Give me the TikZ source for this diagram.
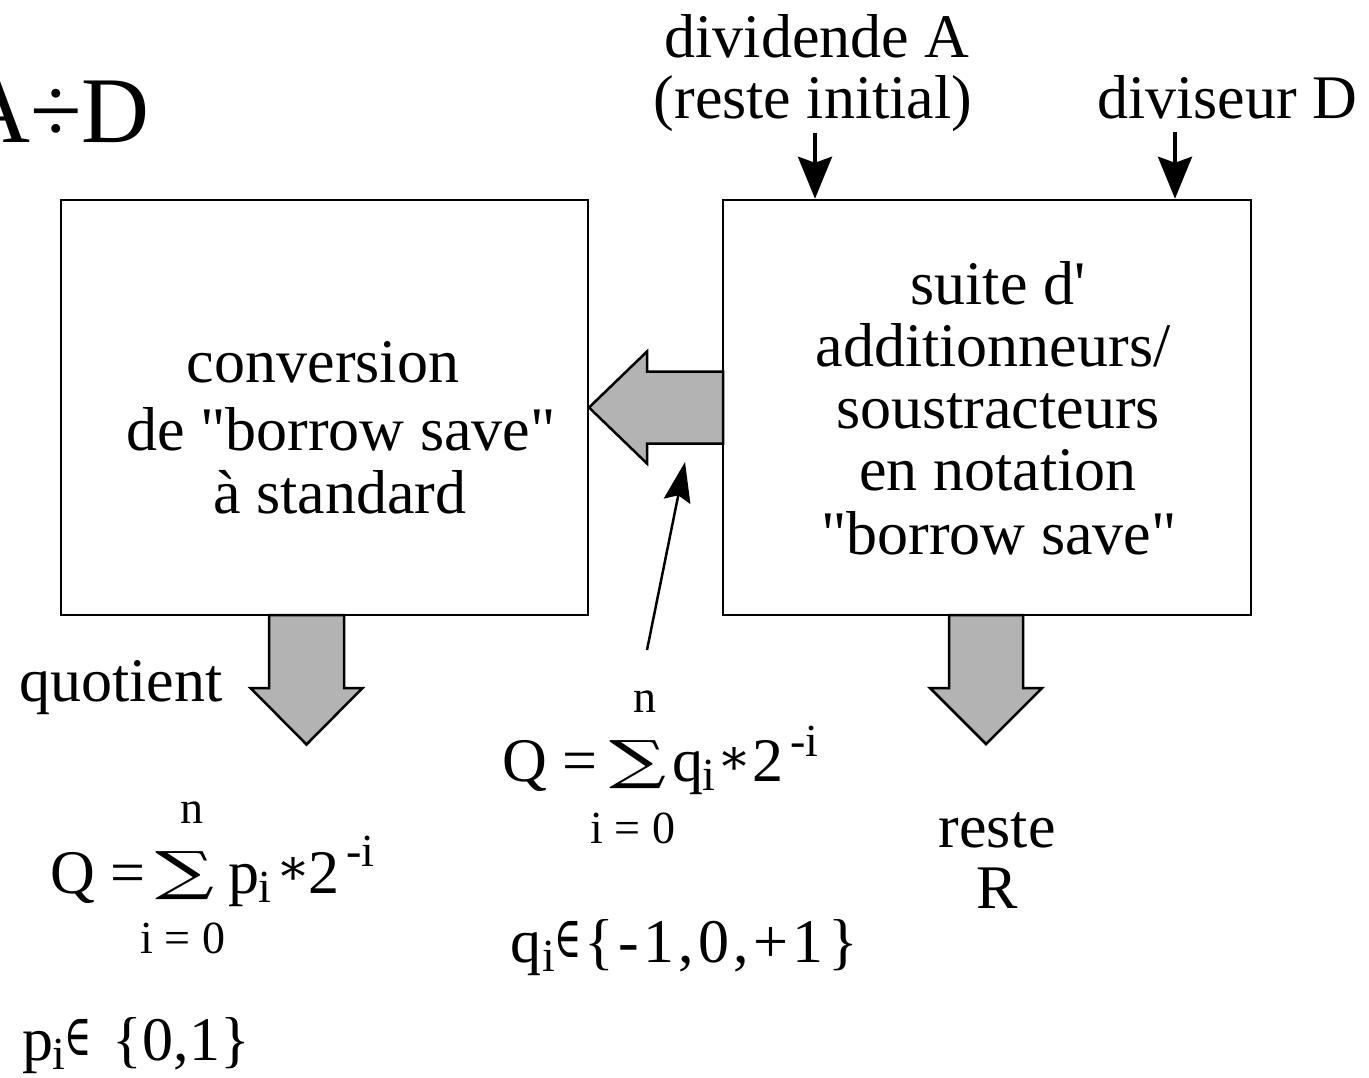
\documentclass[tikz,border=0pt]{standalone}
\usepackage{fontspec}
\setmainfont{Liberation Serif}[Ligatures=TeXOff]
\newfontfamily\spacedserif{Liberation Serif}[Ligatures=TeXOff,LetterSpace=7]
\newfontfamily\dvserif{DejaVu Serif}
\usepackage{graphicx}
\usetikzlibrary{arrows.meta,calc}
\definecolor{arrowgray}{RGB}{179,179,179}
\tikzset{
  box/.style={draw, line width=2.5pt, minimum width=527pt, minimum height=415pt, inner sep=0pt},
  big/.style={font=\fontsize{62}{64}\selectfont, inner sep=0pt, anchor=base},
  bigw/.style={font=\fontsize{62}{64}\selectfont, inner sep=0pt, anchor=base west},
  small/.style={font=\fontsize{46}{48}\selectfont, inner sep=0pt, anchor=base},
  smallw/.style={font=\fontsize{46}{48}\selectfont, inner sep=0pt, anchor=base west},
  sumsym/.style={inner sep=0pt, anchor=center},
  opsym/.style={inner sep=0pt, anchor=center, font=\fontsize{50}{50}\dvserif},
  insym/.style={inner sep=0pt, anchor=base west, font=\fontsize{46}{46}\dvserif},
  fatarrow/.style={fill=arrowgray, draw, line width=2.5pt, line join=miter},
  inarrow/.style={line width=3.5pt, -{Stealth[length=42pt,width=34pt,inset=6pt]}},
  thinarrow/.style={line width=2.5pt, -{Stealth[length=40pt,width=27pt,inset=6pt]}},
}
\begin{document}
\begin{tikzpicture}[x=1pt,y=-1pt]
\useasboundingbox (0,0) rectangle (1369,1077);

% boxes
\node[box] (lbox) at (324.5,407.5) {};
\node[box, minimum width=528pt] (rbox) at (987,407.5) {};

% big gray arrows
\draw[fatarrow] (723,371.5) -- (647,371.5) -- (647,351.5) -- (589,407.5)
  -- (647,463.5) -- (647,443.5) -- (723,443.5) -- cycle;
\draw[fatarrow] (269,615) -- (269,688) -- (250.5,688) -- (306.5,744.5)
  -- (362.5,688) -- (344,688) -- (344,615) -- cycle;
\draw[fatarrow] (949,615) -- (949,688) -- (930,688) -- (986,744)
  -- (1042,688) -- (1023,688) -- (1023,615) -- cycle;

% title
\node[font=\fontsize{94}{96}\selectfont, inner sep=0pt, anchor=base west] (title) at (-38,142) {A÷D};

% inputs
\node[big] (divA) at (817,57) {dividende A};
\node[big] (resteinit) at (813,118) {(reste initial)};
\node[big] (divD) at (1227,118) {diviseur D};
\coordinate (atail) at (815,133);
\coordinate (dtail) at (1175,132);
\draw[inarrow] (atail) -- (atail |- rbox.north);
\draw[inarrow] (dtail) -- (dtail |- rbox.north);

% left box text
\node[big] (c1) at (323,382) {conversion};
\node[big] (c2) at (341,450) {de "borrow save"};
\node[big] (c3) at (340,513) {à standard};

% right box text
\node[big] (s1) at (998,304) {suite d'};
\node[big] (s2) at (993,366) {additionneurs/};
\node[big] (s3) at (998,428) {soustracteurs};
\node[big] (s4) at (998,490) {en notation};
\node[big] (s5) at (999,554) {"borrow save"};

% outputs
\node[big] (quot) at (121,701) {quotient};
\node[big] (reste) at (997,847) {reste};
\node[big] (rR) at (997,908) {R};

% formula middle
\node[bigw] (mQ) at (502,781) {Q =};
\node[sumsym] (msum) at (638.5,765) {\resizebox*{57pt}{48pt}{\dvserif ∑}};
\node[small] (mn) at (645,712) {n};
\node[small] (mlow) at (633,843) {i = 0};
\node[bigw] (mq) at (672,781) {q};
\node[smallw] (mqi) at (702,790) {i};
\node[opsym] (mast) at (734,761) {∗};
\node[bigw] (m2) at (752,781) {2};
\node[smallw] (mexp) at (790,756) {-i};
\node[bigw] (mq2) at (510,962) {q};
\node[smallw] (mq2i) at (542,971) {i};
\node[insym] (min) at (554,957) {\scalebox{0.8}[1.25]{∈}};
\node[bigw, font=\fontsize{62}{64}\spacedserif] (mset) at (584,962) {\{-1,0,+1\}};

% formula left
\node[bigw] (lQ) at (50,893) {Q =};
\node[sumsym] (lsum) at (185.5,876) {\resizebox*{59pt}{48pt}{\dvserif ∑}};
\node[small] (ln) at (192,823) {n};
\node[small] (llow) at (183,953) {i = 0};
\node[bigw] (lp) at (228,893) {p};
\node[smallw] (lpi) at (258,902) {i};
\node[opsym] (last) at (293,871) {∗};
\node[bigw] (l2) at (308,893) {2};
\node[smallw] (lexp) at (346,866) {-i};
\node[bigw] (lp2) at (22,1060) {p};
\node[smallw] (lp2i) at (52,1069) {i};
\node[insym] (lin) at (64,1055) {\scalebox{0.8}[1.25]{∈}};
\node[big, anchor=base east] (lset) at (250,1060) {\{0,1\}};

% q arrow
\coordinate (qtail) at (647,650);
\coordinate (qtip) at (685,462);
\draw[thinarrow] (qtail) -- (qtip);
\end{tikzpicture}
\end{document}
